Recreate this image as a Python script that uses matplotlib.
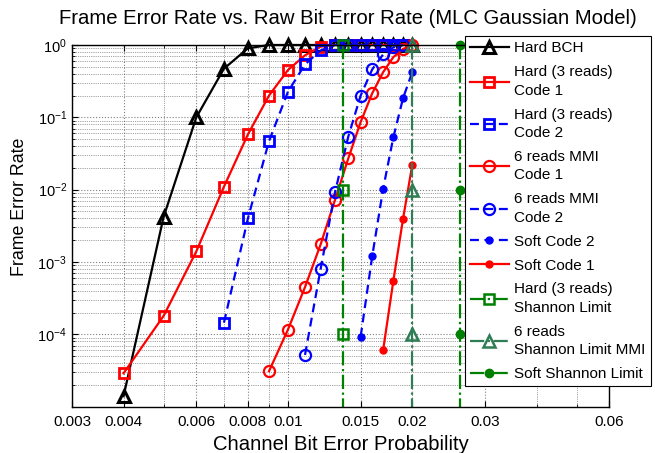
import matplotlib
matplotlib.use("Agg")
import matplotlib.pyplot as plt
from matplotlib.ticker import NullFormatter, LogLocator

plt.rcParams["font.family"] = ["Liberation Sans", "DejaVu Sans"]
plt.rcParams["mathtext.fontset"] = "custom"
plt.rcParams["mathtext.rm"] = "Liberation Sans"

# --- data ---
x_bch = [0.004, 0.005, 0.006, 0.007, 0.008, 0.009, 0.010, 0.011, 0.012, 0.013,
         0.014, 0.015, 0.016, 0.017, 0.018, 0.019, 0.020]
fer_bch = [1.4e-5, 4.2e-3, 0.10, 0.47, 0.90, 1, 1, 1, 1, 1, 1, 1, 1, 1, 1, 1, 1]

x_hard1 = [0.004, 0.005, 0.006, 0.007, 0.008, 0.009, 0.010, 0.011, 0.012, 0.013,
           0.014, 0.015, 0.016, 0.017, 0.018, 0.019]
fer_hard1 = [2.9e-5, 1.8e-4, 1.4e-3, 0.011, 0.058, 0.20, 0.45, 0.72, 0.95, 1,
             1, 1, 1, 1, 1, 1]

x_hard2 = [0.007, 0.008, 0.009, 0.010, 0.011, 0.012, 0.013, 0.014, 0.015, 0.016,
           0.017, 0.018, 0.019]
fer_hard2 = [1.45e-4, 4.0e-3, 0.047, 0.225, 0.54, 0.84, 1, 1, 1, 1, 1, 1, 1]

x_mmi1 = [0.009, 0.010, 0.011, 0.012, 0.013, 0.014, 0.015, 0.016, 0.017, 0.018,
          0.019, 0.020]
fer_mmi1 = [3.1e-5, 1.16e-4, 4.5e-4, 1.75e-3, 7.2e-3, 0.027, 0.086, 0.215, 0.42,
            0.68, 0.88, 1.0]

x_mmi2 = [0.011, 0.012, 0.013, 0.014, 0.015, 0.016, 0.017, 0.018, 0.019]
fer_mmi2 = [5.2e-5, 8.0e-4, 9.2e-3, 0.054, 0.20, 0.46, 0.74, 0.93, 1.0]

x_soft2 = [0.015, 0.016, 0.017, 0.018, 0.019, 0.020]
fer_soft2 = [9.3e-5, 1.2e-3, 0.0102, 0.053, 0.184, 0.42]

x_soft1 = [0.017, 0.018, 0.019, 0.020]
fer_soft1 = [6.0e-5, 5.5e-4, 3.95e-3, 0.022]

# Shannon limits (vertical lines), markers every two decades
x_sl_hard = 0.0136
x_sl_mmi = 0.0200
x_sl_soft = 0.0261
fer_sl = [1.0, 1e-2, 1e-4, 1e-5]

xticks = [0.003, 0.004, 0.006, 0.008, 0.01, 0.015, 0.02, 0.03, 0.06]
xticklabels = ["0.003", "0.004", "0.006", "0.008", "0.01", "0.015", "0.02", "0.03", "0.06"]

fig = plt.figure(figsize=(6.55, 4.53), dpi=100)
ax = fig.add_axes([0.1099, 0.1022, 0.8203, 0.7985])

lw = 1.6
ax.plot(x_bch, fer_bch, "k-", marker="^", ms=8, mfc="none", mew=2.2, lw=lw,
        clip_on=False, label="Hard BCH")
ax.plot(x_hard1, fer_hard1, "r-", marker="s", ms=7, mfc="none", mew=2.0, lw=lw,
        clip_on=False, label="Hard (3 reads)\nCode 1")
ax.plot(x_hard2, fer_hard2, "b--", marker="s", ms=7, mfc="none", mew=2.0, lw=lw,
        dashes=(4, 2.5), clip_on=False, label="Hard (3 reads)\nCode 2")
ax.plot(x_mmi1, fer_mmi1, "r-", marker="o", ms=8, mfc="none", mew=1.6, lw=lw,
        clip_on=False, label="6 reads MMI\nCode 1")
ax.plot(x_mmi2, fer_mmi2, "b--", marker="o", ms=8, mfc="none", mew=1.6, lw=lw,
        dashes=(4, 2.5), clip_on=False, label="6 reads MMI\nCode 2")
ax.plot(x_soft2, fer_soft2, "b--", marker="o", ms=5, lw=lw, dashes=(4, 2.5),
        clip_on=False, label="Soft Code 2")
ax.plot(x_soft1, fer_soft1, "r-", marker="o", ms=5, lw=lw,
        clip_on=False, label="Soft Code 1")

green = "#008000"
teal = "#2e7d55"
ax.plot([x_sl_hard] * len(fer_sl), fer_sl, color=green, ls="-.", lw=lw, marker="s",
        ms=7, mfc="none", mew=1.8, markevery=[0, 1, 2], clip_on=False,
        label="Hard (3 reads)\nShannon Limit")
ax.plot([x_sl_mmi] * len(fer_sl), fer_sl, color=teal, ls="-.", lw=lw, marker="^",
        ms=9, mfc="none", mew=1.8, markevery=[0, 1, 2], clip_on=False,
        label="6 reads\nShannon Limit MMI")
ax.plot([x_sl_soft] * len(fer_sl), fer_sl, color=green, ls="-.", lw=lw, marker="o",
        ms=6, markevery=[0, 1, 2], clip_on=False, label="Soft Shannon Limit")

ax.set_xscale("log")
ax.set_yscale("log")
ax.set_xlim(0.003, 0.06)
ax.set_ylim(1e-5, 1)
ax.set_xticks(xticks)
ax.set_xticklabels(xticklabels)
ax.xaxis.set_minor_formatter(NullFormatter())
ax.set_yticks([1e-4, 1e-3, 1e-2, 1e-1, 1e0])
ax.yaxis.set_minor_locator(LogLocator(base=10, subs=range(2, 10), numticks=20))
ax.yaxis.set_minor_formatter(NullFormatter())
ax.tick_params(which="both", direction="in", top=True, right=True)
ax.tick_params(axis="x", labelsize=11, pad=6)
ax.tick_params(axis="y", labelsize=10.5)
ax.tick_params(which="major", length=4)
ax.tick_params(which="minor", length=2)
ax.grid(True, which="major", ls=":", color="0.5", lw=0.8)
ax.grid(True, which="minor", ls=":", color="0.3", lw=0.5)
for s in ax.spines.values():
    s.set_linewidth(1.0)

ax.set_title("Frame Error Rate vs. Raw Bit Error Rate (MLC Gaussian Model)",
             fontsize=14.6, x=0.513, pad=15)
ax.set_xlabel("Channel Bit Error Probability", fontsize=14.6, labelpad=4)
ax.set_ylabel("Frame Error Rate", fontsize=12.8)
ax.yaxis.set_label_coords(-0.0815, 0.552)

leg = ax.legend(loc="upper left", bbox_to_anchor=(0.710, 0.9205),
                bbox_transform=fig.transFigure, borderaxespad=0, fontsize=11,
                numpoints=1, handlelength=2.5, handletextpad=0.35, labelspacing=0.65,
                borderpad=0.35, fancybox=False, framealpha=1, edgecolor="k")
leg.get_frame().set_linewidth(0.8)
for t in leg.get_texts():
    t.set_linespacing(1.4)

fig.savefig("out.png", dpi=100)
